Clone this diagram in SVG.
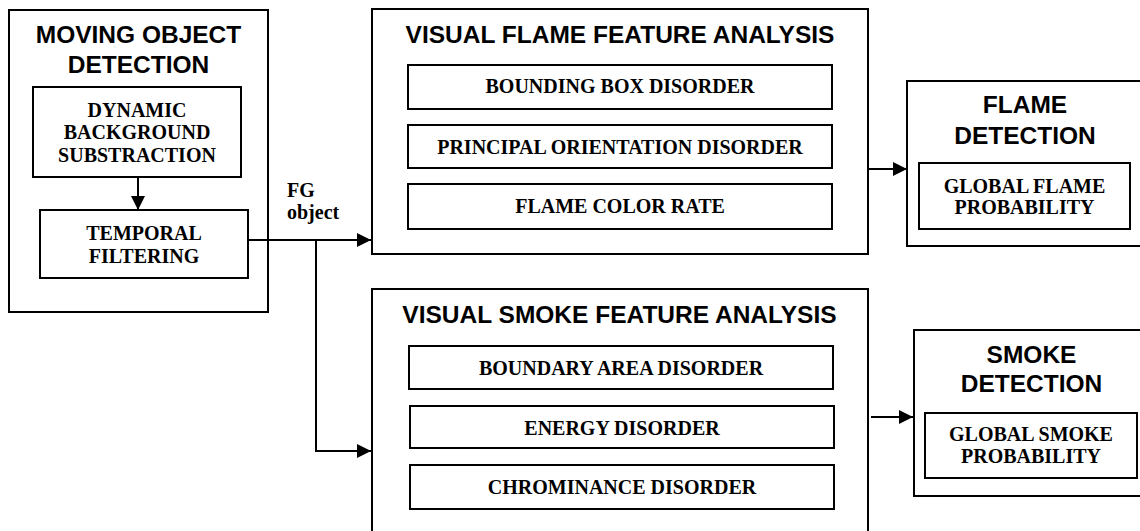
<svg xmlns="http://www.w3.org/2000/svg" width="1140" height="531" viewBox="0 0 1140 531">
<style>
.box{fill:none;stroke:#000;stroke-width:2}
.ttl{font-family:"Liberation Sans",Arial,sans-serif;font-weight:bold;font-size:24.5px;text-anchor:middle;fill:#000}
.lbl{font-family:"Liberation Serif","Times New Roman",serif;font-weight:bold;font-size:20px;text-anchor:middle;fill:#000}
.fg{font-family:"Liberation Serif","Times New Roman",serif;font-weight:bold;font-size:20px;fill:#000}
.con{fill:none;stroke:#000;stroke-width:2}
</style>
<defs>
<marker id="arr" markerUnits="userSpaceOnUse" markerWidth="15" markerHeight="14" refX="14" refY="7" orient="auto">
<path d="M0,0 L14,7 L0,14 z" fill="#000"/>
</marker>
</defs>
<rect width="1140" height="531" fill="#fff"/>
<g id="moving-object-detection">
<rect class="box" x="9" y="10" width="259" height="302"/>
<text class="ttl" x="138.5" y="43">MOVING OBJECT</text>
<text class="ttl" x="138.5" y="73">DETECTION</text>
</g>
<g id="dynamic-background">
<rect class="box" x="33" y="87" width="208" height="90"/>
<text class="lbl" x="137" y="117">DYNAMIC</text>
<text class="lbl" x="137" y="139">BACKGROUND</text>
<text class="lbl" x="137" y="162">SUBSTRACTION</text>
</g>
<g id="temporal-filtering">
<rect class="box" x="40" y="210" width="208" height="68"/>
<text class="lbl" x="144" y="240">TEMPORAL</text>
<text class="lbl" x="144" y="263">FILTERING</text>
</g>
<g id="fg-object-label">
<text class="fg" x="287" y="197">FG</text>
<text class="fg" x="287" y="219">object</text>
</g>
<g id="visual-flame-feature-analysis">
<rect class="box" x="372" y="9" width="496" height="245"/>
<text class="ttl" x="620" y="43">VISUAL FLAME FEATURE ANALYSIS</text>
</g>
<g id="bounding-box-disorder">
<rect class="box" x="408" y="65" width="424" height="44"/>
<text class="lbl" x="620" y="93">BOUNDING BOX DISORDER</text>
</g>
<g id="principal-orientation-disorder">
<rect class="box" x="408" y="125" width="424" height="43"/>
<text class="lbl" x="620" y="154">PRINCIPAL ORIENTATION DISORDER</text>
</g>
<g id="flame-color-rate">
<rect class="box" x="408" y="184" width="424" height="45"/>
<text class="lbl" x="620" y="213">FLAME COLOR RATE</text>
</g>
<g id="flame-detection">
<rect class="box" x="907" y="81" width="245" height="165"/>
<text class="ttl" x="1025" y="113">FLAME</text>
<text class="ttl" x="1025" y="144">DETECTION</text>
</g>
<g id="global-flame-probability">
<rect class="box" x="919" y="163" width="211" height="66"/>
<text class="lbl" x="1024.5" y="193">GLOBAL FLAME</text>
<text class="lbl" x="1024.5" y="214">PROBABILITY</text>
</g>
<g id="visual-smoke-feature-analysis">
<rect class="box" x="372" y="289" width="496" height="270"/>
<text class="ttl" x="619.5" y="323">VISUAL SMOKE FEATURE ANALYSIS</text>
</g>
<g id="boundary-area-disorder">
<rect class="box" x="409" y="346" width="424" height="43"/>
<text class="lbl" x="621" y="375">BOUNDARY AREA DISORDER</text>
</g>
<g id="energy-disorder">
<rect class="box" x="410" y="406" width="424" height="42"/>
<text class="lbl" x="622" y="435">ENERGY DISORDER</text>
</g>
<g id="chrominance-disorder">
<rect class="box" x="410" y="465" width="424" height="44"/>
<text class="lbl" x="622" y="494">CHROMINANCE DISORDER</text>
</g>
<g id="smoke-detection">
<rect class="box" x="914" y="330" width="245" height="166"/>
<text class="ttl" x="1031.5" y="363">SMOKE</text>
<text class="ttl" x="1031.5" y="392">DETECTION</text>
</g>
<g id="global-smoke-probability">
<rect class="box" x="925" y="413" width="212" height="65"/>
<text class="lbl" x="1031" y="441">GLOBAL SMOKE</text>
<text class="lbl" x="1031" y="463">PROBABILITY</text>
</g>
<g id="connectors">
<line class="con" x1="138" y1="177" x2="138" y2="210" marker-end="url(#arr)"/>
<line class="con" x1="248" y1="240" x2="371" y2="240" marker-end="url(#arr)"/>
<path class="con" d="M316,240 V451 H371" marker-end="url(#arr)"/>
<line class="con" x1="868" y1="169" x2="907" y2="169" marker-end="url(#arr)"/>
<line class="con" x1="871" y1="417" x2="913" y2="417" marker-end="url(#arr)"/>
</g>
</svg>
